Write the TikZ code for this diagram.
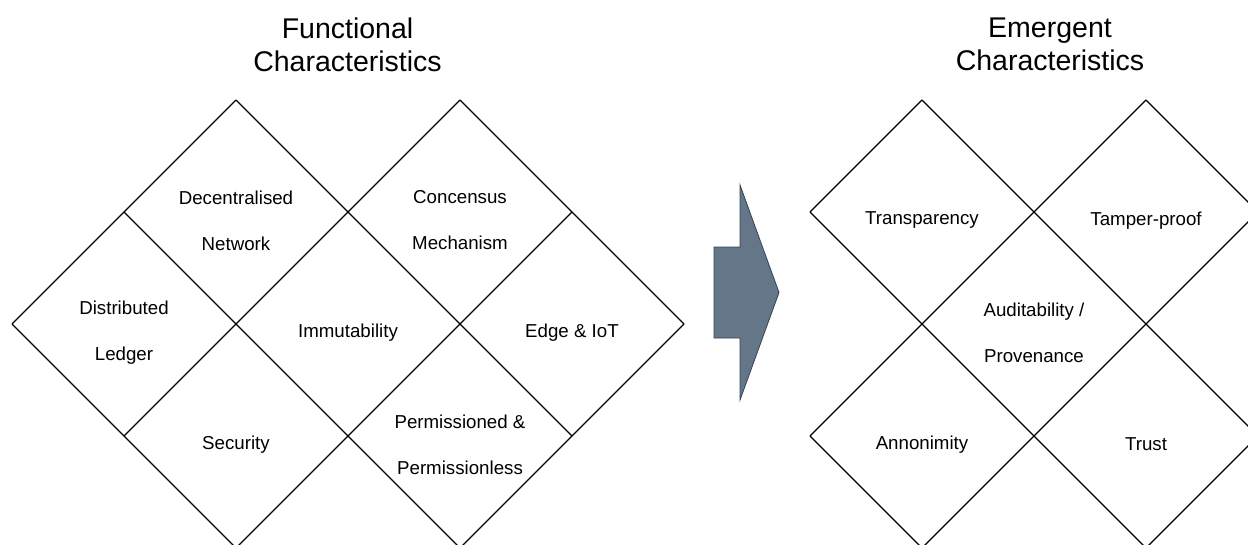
\documentclass[tikz,border=0pt]{standalone}
\usepackage{fontspec}
\setmainfont{Liberation Sans}
\usetikzlibrary{shapes.geometric}

\begin{document}
\begin{tikzpicture}[x=1pt,y=-1pt,
  cell/.style={shape=diamond,aspect=1,inner sep=0pt,outer sep=0pt,
    minimum width=224pt,minimum height=224pt},
  grid/.style={black,line width=1.3pt},
  lbl/.style={align=center,inner sep=0pt,font=\fontsize{18.7}{23}\selectfont},
  ttl/.style={align=center,inner sep=0pt,font=\fontsize{28.5}{33}\selectfont}]
\clip (0,0) rectangle (1248,544);
\draw (347.5,44.5) node [ttl] (ftitle) {Functional\\Characteristics};
\draw (1050,44.5) node [ttl] (etitle) {Emergent\\Characteristics};
\draw (236,212) node [cell] (dnet) {};
\draw (460,212) node [cell] (cmech) {};
\draw (124,324) node [cell] (dled) {};
\draw (348,324) node [cell] (immut) {};
\draw (572,324) node [cell] (edge) {};
\draw (236,436) node [cell] (secur) {};
\draw (460,436) node [cell] (perm) {};
\draw (922,212) node [cell] (transp) {};
\draw (1146,212) node [cell] (tamper) {};
\draw (1034,324) node [cell] (audit) {};
\draw (922,436) node [cell] (anon) {};
\draw (1146,436) node [cell] (trust) {};
\draw [grid] (dnet.north) -- (perm.east);
\draw [grid] (dled.north) -- (perm.south);
\draw [grid] (dled.west) -- (secur.south);
\draw [grid] (cmech.north) -- (edge.east);
\draw [grid] (dled.west) -- (dnet.north);
\draw [grid] (secur.west) -- (cmech.north);
\draw [grid] (secur.south) -- (edge.north);
\draw [grid] (perm.south) -- (edge.east);
\draw [grid] (transp.north) -- (trust.east);
\draw [grid] (transp.west) -- (trust.south);
\draw [grid] (anon.west) -- (anon.south);
\draw [grid] (tamper.north) -- (tamper.east);
\draw [grid] (transp.west) -- (transp.north);
\draw [grid] (anon.west) -- (tamper.north);
\draw [grid] (anon.south) -- (tamper.east);
\draw [grid] (trust.south) -- (trust.east);
\draw ([yshift=-8.5pt]dnet.center) node [lbl] (dnettxt) {Decentralised\\[23pt]Network};
\draw ([yshift=-8.5pt]cmech.center) node [lbl] (cmechtxt) {Concensus\\[23pt]Mechanism};
\draw ([yshift=-8.5pt]dled.center) node [lbl] (dledtxt) {Distributed\\[23pt]Ledger};
\draw ([yshift=-8.5pt]immut.center) node [lbl] (immuttxt) {Immutability};
\draw ([yshift=-8.5pt]edge.center) node [lbl] (edgetxt) {Edge \& IoT};
\draw ([yshift=-8.5pt]secur.center) node [lbl] (securtxt) {Security};
\draw ([yshift=-8.5pt]perm.center) node [lbl] (permtxt) {Permissioned \&\\[23pt]Permissionless};
\draw ([yshift=-8.5pt]transp.center) node [lbl] (transptxt) {Transparency};
\draw ([yshift=-8.5pt]tamper.center) node [lbl] (tampertxt) {Tamper-proof};
\draw ([yshift=-8.5pt]audit.center) node [lbl] (audittxt) {Auditability /\\[23pt]Provenance};
\draw ([yshift=-8.5pt]anon.center) node [lbl] (anontxt) {Annonimity};
\draw ([yshift=-8.5pt]trust.center) node [lbl] (trusttxt) {Trust};
\filldraw [fill={rgb,255:red,100;green,118;blue,135},draw={rgb,255:red,49;green,67;blue,84},line width=0.8pt]
  (714,247) -- (740,247) -- (740,185) -- (779,292.5) -- (740,400) -- (740,338) -- (714,338) -- cycle;
\end{tikzpicture}
\end{document}
